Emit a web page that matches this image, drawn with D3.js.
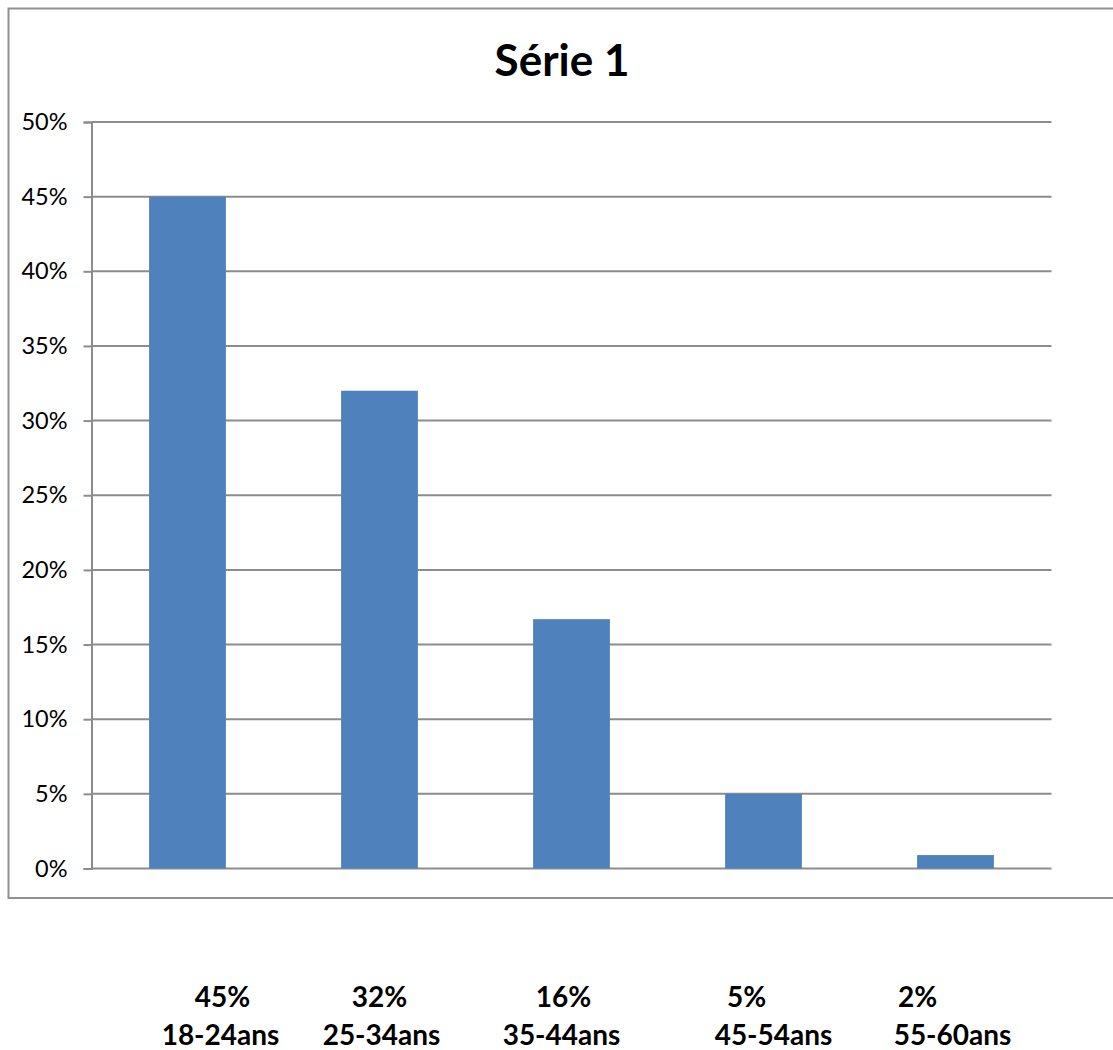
<!DOCTYPE html>
<html><head><meta charset="utf-8">
<script src="https://cdn.jsdelivr.net/npm/d3@7"></script>
<style>body{margin:0;background:#fff}svg{display:block}</style>
</head><body>
<svg id="c" width="1113" height="1050"></svg>
<script>
const categories = ["18-24ans","25-34ans","35-44ans","45-54ans","55-60ans"];
const values = [45, 32, 16.7, 5, 0.9];
const percentLabels = ["45%","32%","16%","5%","2%"];
const yTicks = [0,5,10,15,20,25,30,35,40,45,50];
const title = "Série 1";

// layout offsets (px) of the two label lines from each band centre
const line1Offset = [35, 0, -8, -17, -38];
const line2Offset = [33, 2, -10, 10, -3];

const svg = d3.select("#c");
const L = 91.5, R = 1051.5, T = 122, B = 868.5;

svg.append("rect").attr("x",8.5).attr("y",8.5).attr("width",1130).attr("height",889.5)
  .attr("fill","none").attr("stroke","#909090").attr("stroke-width",2);

const x = d3.scaleBand().domain(categories).range([L,R]).paddingInner(0.6).paddingOuter(0.3);
const y = d3.scaleLinear().domain([0,50]).range([B,T]);

const gy = svg.append("g").attr("transform",`translate(${L},0)`)
  .call(d3.axisLeft(y).tickValues(yTicks).tickFormat(d=>d+"%").tickSize(8).tickPadding(16));
gy.select(".domain").attr("stroke","#8c8c8c").attr("stroke-width",2);
gy.selectAll(".tick line").attr("stroke","#8c8c8c").attr("stroke-width",2);
gy.selectAll(".tick text").attr("font-family","Lato, sans-serif").attr("font-size",23.5).attr("fill","#000");

svg.append("g").selectAll("line").data(yTicks).join("line")
  .attr("x1",L).attr("x2",R).attr("y1",d=>y(d)).attr("y2",d=>y(d))
  .attr("stroke","#8c8c8c").attr("stroke-width",2);

svg.append("g").selectAll("rect").data(values).join("rect")
  .attr("x",(d,i)=>x(categories[i])).attr("width",x.bandwidth())
  .attr("y",d=>y(d)).attr("height",d=>B-y(d)).attr("fill","#4f81bd");

svg.append("text").attr("x",562).attr("y",76).attr("text-anchor","middle")
  .attr("font-family","Lato, sans-serif").attr("font-weight","bold").attr("font-size",44).text(title);

const lab = svg.append("g").attr("font-family","Lato, sans-serif").attr("font-weight","bold")
  .attr("font-size",28).attr("text-anchor","middle").attr("fill","#000");
lab.selectAll("text.l1").data(percentLabels).join("text").attr("class","l1")
  .attr("x",(d,i)=>x(categories[i])+x.bandwidth()/2+line1Offset[i]).attr("y",1007).text(d=>d);
lab.selectAll("text.l2").data(categories).join("text").attr("class","l2")
  .attr("x",(d,i)=>x(categories[i])+x.bandwidth()/2+line2Offset[i]).attr("y",1045).text(d=>d);
</script>
</body></html>
